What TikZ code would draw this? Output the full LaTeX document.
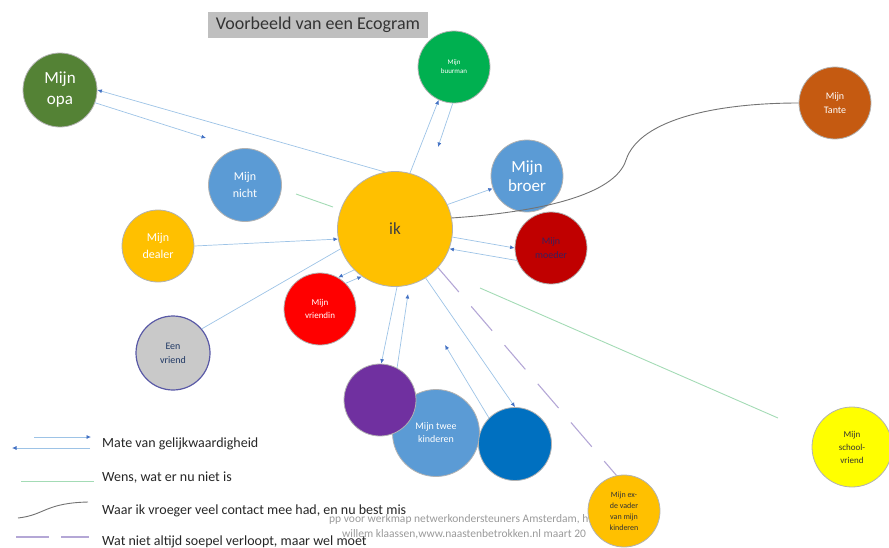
\documentclass[tikz,border=0pt]{standalone}
\usepackage{fontspec}
\setmainfont{Carlito}
\usetikzlibrary{arrows.meta}

\definecolor{titlegray}{HTML}{BFBFBF}
\definecolor{opagreen}{HTML}{548235}
\definecolor{buurgreen}{HTML}{00B050}
\definecolor{tanteorange}{HTML}{C55A11}
\definecolor{lightblue}{HTML}{5B9BD5}
\definecolor{gold}{HTML}{FFC000}
\definecolor{darkred}{HTML}{C00000}
\definecolor{brightred}{HTML}{FF0000}
\definecolor{silver}{HTML}{C9C9C9}
\definecolor{kidpurple}{HTML}{7030A0}
\definecolor{kidblue}{HTML}{0070C0}
\definecolor{schoolyellow}{HTML}{FFFF00}
\definecolor{linkblue}{HTML}{9DC3E6}
\definecolor{tipblue}{HTML}{4472C4}
\definecolor{wishgreen}{HTML}{A3DBB5}
\definecolor{hardlila}{HTML}{B4A7D6}
\definecolor{footgray}{HTML}{9A9A9A}
\definecolor{navytext}{HTML}{1F3864}
\definecolor{plumtext}{HTML}{3B1F5C}

\tikzstyle{person} = [circle, draw=black!30, line width=.8pt, align=center, inner sep=0pt, minimum size=72pt, text=white]
\tikzstyle{line} = [draw, -{Latex[length=4.5pt,width=4pt,color=tipblue]}, linkblue, line width=.7pt]
\tikzstyle{wish} = [draw, wishgreen, line width=.9pt]
\tikzstyle{past} = [draw, black!55, line width=.9pt]
\tikzstyle{hard} = [draw, hardlila, line width=1.1pt, dash pattern=on 32pt off 19pt]
\tikzstyle{legend} = [anchor=west, inner sep=0pt, font=\fontsize{14}{16}\selectfont, text=black!85]

\begin{document}
\begin{tikzpicture}[x=1pt, y=-1pt]
    \useasboundingbox (0,0) rectangle (889,547);

    % TITLE
        \node [fill=titlegray, minimum width=220pt, minimum height=26pt,
               font=\fontsize{18}{20}\selectfont, text=black!80]
            (title) at (318,25) {Voorbeeld van een Ecogram};

    % FOOTER (partly under the ex circle)
        \node [anchor=west, inner sep=0pt, font=\fontsize{11.5}{13}\selectfont, text=footgray]
            (foot1) at (329,519) {pp voor werkmap netwerkondersteuners Amsterdam, h};
        \node [anchor=west, inner sep=0pt, font=\fontsize{11.5}{13}\selectfont, text=footgray]
            (foot2) at (342,534) {willem klaassen,www.naastenbetrokken.nl maart 20};

    % ME
        \node [person, fill=gold, minimum size=115pt, text=black!75,
               font=\fontsize{17}{19}\selectfont]
            (ik) at (395,229) {ik};

    % THE NETWORK
        \node [person, fill=opagreen, minimum size=74pt, font=\fontsize{17}{21}\selectfont]
            (opa) at (60,90) {Mijn\\opa};
        \node [person, fill=buurgreen, font=\fontsize{7}{9}\selectfont]
            (buurman) at (454,67) {Mijn\\buurman};
        \node [person, fill=tanteorange, font=\fontsize{10}{14}\selectfont]
            (tante) at (835,103) {Mijn\\Tante};
        \node [person, fill=lightblue, minimum size=73pt, font=\fontsize{12}{17}\selectfont]
            (nicht) at (245,185) {Mijn\\nicht};
        \node [person, fill=lightblue, font=\fontsize{17}{19}\selectfont]
            (broer) at (527,176) {Mijn\\broer};
        \node [person, fill=darkred, text=plumtext, font=\fontsize{10}{14}\selectfont]
            (moeder) at (551,248) {Mijn\\moeder};
        \node [person, fill=gold, font=\fontsize{12}{17}\selectfont]
            (dealer) at (158,246) {Mijn\\dealer};
        \node [person, fill=brightred, font=\fontsize{9}{13}\selectfont]
            (vriendin) at (320,309) {Mijn\\vriendin};
        \node [person, fill=silver, draw=gray!70!blue, line width=1.2pt, minimum size=74pt,
               text=navytext, font=\fontsize{10}{14}\selectfont]
            (vriend) at (173,353) {Een\\vriend};
        \node [person, fill=lightblue, minimum size=87pt, font=\fontsize{10}{13}\selectfont]
            (kinderen) at (436,433) {Mijn twee\\kinderen};
        \node [person, fill=kidpurple]
            (kind1) at (380,400) {};
        \node [person, fill=kidblue, minimum size=73pt]
            (kind2) at (515,444) {};
        \node [person, fill=gold, text=black!80, font=\fontsize{8}{11}\selectfont]
            (ex) at (624,511) {Mijn ex-\\de vader\\van mijn\\kinderen};
        \node [person, fill=schoolyellow, minimum size=80pt, text=black!80,
               font=\fontsize{9}{13}\selectfont]
            (school) at (852,447) {Mijn\\school-\\vriend};

    % free ends
        \coordinate (opaend) at (206,138);
        \coordinate (buurend) at (438,147);
        \coordinate (kind1end) at (408,294);
        \coordinate (kind2end) at (445,345);
        \coordinate (wish1a) at (296,194);
        \coordinate (wish1b) at (333,207);
        \coordinate (wish2a) at (480,288);
        \coordinate (wish2b) at (778,418);

    % LINES equal contact
        \path[line] (ik.100) -- (opa.east);
        \path[line] (opa.-20) -- (opaend);
        \path[line] (ik.75) -- (buurman.-115);
        \path[line] (buurman.-92) -- (buurend);
        \path[line] (ik.25) -- (broer.-160);
        \path[line] (ik.-8) -- (moeder.180);
        \path[line] (moeder.-160) -- (ik.-20);
        \path[line] (dealer.east) -- (ik.190);
        \path[line,-] (vriend.40) -- (ik.200);
        \path[line] (ik.225) -- (vriendin.60);
        \path[line] (vriendin.45) -- (ik.235);
        \path[line] (ik.272) -- (kind1.88);
        \path[line] (kind1.62) -- (kind1end);
        \path[line] (ik.-58) -- (kind2.90);
        \path[line] (kind2.135) -- (kind2end);

    % LINES wish
        \path[wish] (wish1a) -- (wish1b);
        \path[wish] (wish2a) -- (wish2b);

    % LINE former contact
        \path[past] (ik.11) .. controls (540,212) and (615,195) .. (626,160)
            .. controls (640,118) and (720,103) .. (tante.west);

    % LINE difficult contact
        \path[hard] (ik.-42) -- (ex.102);

    % LEGEND
        \coordinate (l1a) at (34,437);
        \coordinate (l1b) at (91,437);
        \coordinate (l2a) at (90,448);
        \coordinate (l2b) at (12,448);
        \path[line] (l1a) -- (l1b);
        \path[line] (l2a) -- (l2b);
        \node [legend] (leg1) at (102,444) {Mate van gelijkwaardigheid};

        \coordinate (l3a) at (21,481);
        \coordinate (l3b) at (94,481);
        \path[wish] (l3a) -- (l3b);
        \node [legend] (leg2) at (102,478) {Wens, wat er nu niet is};

        \coordinate (l4a) at (18,518);
        \coordinate (l4b) at (88,502);
        \path[past] (l4a) .. controls (45,515) and (45,503) .. (l4b);
        \node [legend] (leg3) at (102,511) {Waar ik vroeger veel contact mee had, en nu best mis};

        \coordinate (l5a) at (16,537);
        \coordinate (l5b) at (89,537);
        \path[hard, dash pattern=on 33pt off 12pt] (l5a) -- (l5b);
        \node [legend] (leg4) at (102,542) {Wat niet altijd soepel verloopt, maar wel moet};
\end{tikzpicture}
\end{document}
